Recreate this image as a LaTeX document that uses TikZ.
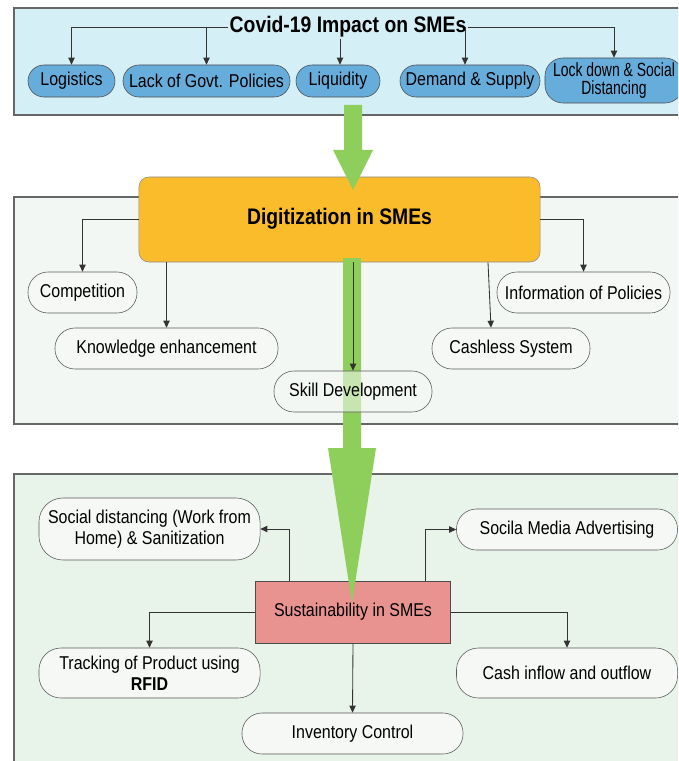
\documentclass[tikz,border=0pt]{standalone}
\usepackage{fontspec}
\setmainfont{Liberation Sans}[FakeStretch=0.86]
\newfontfamily\narrowfont{Liberation Sans}[FakeStretch=0.73]
\usetikzlibrary{arrows.meta,positioning,calc}
\definecolor{topbg}{HTML}{D5EFF7}
\definecolor{midbg}{HTML}{F2F7F3}
\definecolor{botbg}{HTML}{E8F3EA}
\definecolor{causeblue}{HTML}{66ADDC}
\definecolor{pillbg}{HTML}{F5F8F5}
\definecolor{digiorange}{HTML}{FBBC2B}
\definecolor{sustred}{HTML}{E99391}
\definecolor{biggreen}{HTML}{8DCF5A}
\tikzset{
  panel/.style={draw=black!60,line width=0.9pt},
  blk/.style={draw,rectangle,inner sep=1pt,align=center,font=\fontsize{13.2}{15}\selectfont},
  causeblk/.style={blk,fill=causeblue,draw=black!70,rounded corners=0.4cm,minimum height=0.8cm},
  outblk/.style={blk,fill=pillbg,draw=black!65,rounded corners=0.5cm,minimum height=1.025cm},
  digiblk/.style={blk,fill=digiorange,draw=black!45,rounded corners=0.25cm,font=\fontsize{16}{18}\selectfont\bfseries},
  sustblk/.style={blk,fill=sustred,draw=black!70},
  arr/.style={-{Triangle[length=5pt,width=4.5pt]},black!80,line width=0.6pt},
  bigarr/.style={fill=biggreen,draw=none}
}

\begin{document}
\begin{tikzpicture}[x=0.025cm,y=-0.025cm]
  \useasboundingbox (0,0) rectangle (678,761);
  \clip (0,0) rectangle (678,761);

  % panels
  \draw[panel,fill=topbg] (14,8) rectangle (700,115);
  \draw[panel,fill=midbg] (14,197) rectangle (700,424);
  \draw[panel,fill=botbg] (14,474) rectangle (700,790);

  % causes
  \node[inner sep=1pt,font=\fontsize{16}{18}\selectfont\bfseries] (title) at (348,27) {Covid-19 Impact on SMEs};
  \node[causeblk,minimum width=2.175cm] (logi) at (71.5,81) {Logistics};
  \node[causeblk,minimum width=4.175cm] (lack) at (206.5,81) {Lack of Govt. Policies};
  \node[causeblk,minimum width=2.1cm] (liq) at (338,81) {Liquidity};
  \node[causeblk,minimum width=3.5cm] (dem) at (470,81) {Demand \& Supply};
  \node[causeblk,minimum width=3.45cm,minimum height=1.125cm,rounded corners=0.45cm,font=\narrowfont\fontsize{13.6}{13}\selectfont] (lock) at (614,80.5) {Lock down \& Social\\Distancing};

  \draw[arr] (title.west) -| (logi.north);
  \draw[arr] (title.west -| lack.north) -- (lack.north);
  \draw[arr] ($(title.south -| liq.north)+(2,0)$) -- ($(liq.north)+(2,0)$);
  \draw[arr] (title.east) -| (lock.north);
  \draw[arr] ($(title.east -| dem.north)+(-5,0)$) -- ($(dem.north)+(-5,0)$);

  % digitization
  \node[digiblk,minimum width=10.025cm,minimum height=2.125cm] (digi) at (339.5,219.5) {\raisebox{0.16cm}{Digitization in SMEs}};
  \node[outblk,minimum width=2.725cm] (comp) at (82.5,292.5) {Competition};
  \node[outblk,minimum width=4.325cm] (info) at (583.5,292.5) {Information of Policies};
  \node[outblk,minimum width=5.575cm] (know) at (166.5,348.5) {Knowledge enhancement};
  \node[outblk,minimum width=3.95cm] (cash) at (511,348.5) {Cashless System};

  % sustainability
  \node[sustblk,minimum width=4.875cm,minimum height=1.55cm] (sust) at (353,612) {Sustainability in SMEs};
  \node[outblk,minimum width=5.525cm,minimum height=1.55cm,rounded corners=0.6cm] (soc) at (149.5,529) {Social distancing (Work from\\Home) \& Sanitization};
  \node[outblk,minimum width=5.525cm] (media) at (567,529.5) {Socila Media Advertising};
  \node[outblk,minimum width=5.525cm,minimum height=1.25cm,rounded corners=0.55cm] (track) at (149.5,673) {Tracking of Product using\\\textbf{RFID}};
  \node[outblk,minimum width=5.525cm,minimum height=1.25cm,rounded corners=0.55cm] (flow) at (567,673) {Cash inflow and outflow};
  \node[outblk,minimum width=5.525cm] (inv) at (352.5,733.5) {Inventory Control};

  % big arrows
  \fill[bigarr] (344,105) -- (362,105) -- (362,150) -- (373,150) -- (353,190)
    -- (333,150) -- (344,150) -- cycle;
  \fill[bigarr] (343,258) -- (361,258) -- (361,448) -- (376,448) -- (352,603)
    -- (328,448) -- (343,448) -- cycle;

  \node[outblk,minimum width=3.95cm,fill opacity=0.55,text opacity=1] (skill) at (353,391.5) {Skill Development};

  \draw[arr] (digi.west) -| (comp.north);
  \draw[arr] (digi.east) -| (info.north);
  \draw[arr] (digi.south -| know.north) -- (know.north);
  \draw[arr] ($(digi.south -| cash.north)+(-23,0)$) -- ($(cash.north)+(-20,0)$);
  \draw[arr] (digi.south -| skill.north) -- (skill.north);

  \draw[arr] ($(sust.north)+(-64,0)$) |- (soc.east);
  \draw[arr] ($(sust.north)+(72,0)$) |- (media.west);
  \draw[arr] (sust.west) -| (track.north);
  \draw[arr] (sust.east) -| (flow.north);
  \draw[arr] (sust.south) -- (inv.north);
\end{tikzpicture}
\end{document}
